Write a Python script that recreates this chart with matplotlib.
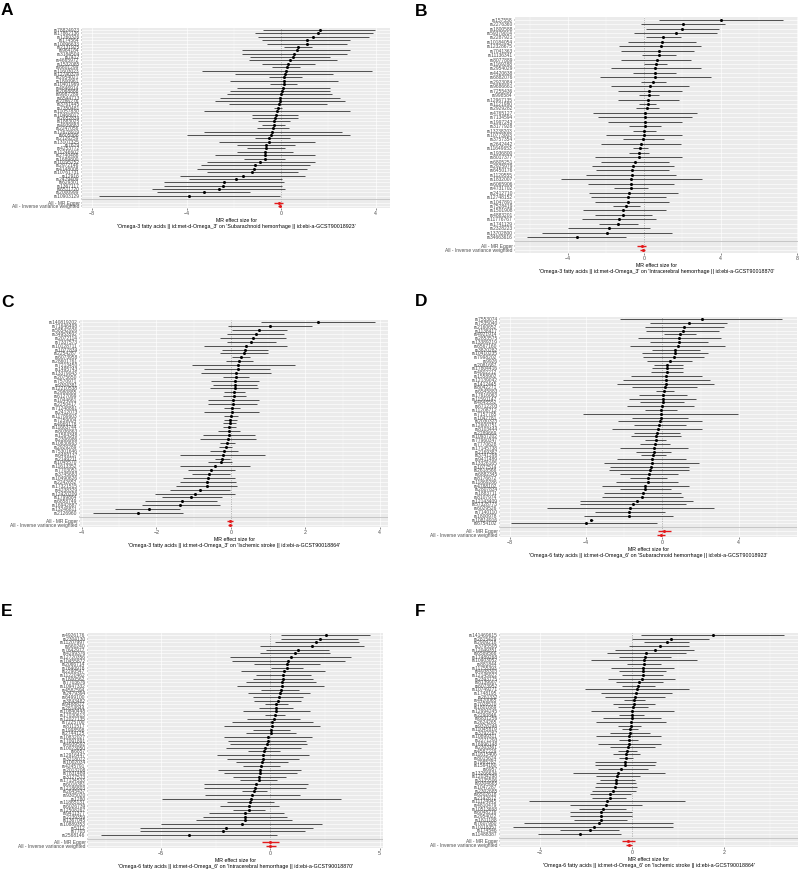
import numpy as np
import matplotlib
matplotlib.use("Agg")
import matplotlib.pyplot as plt
from matplotlib.ticker import MultipleLocator

plt.rcParams['font.family'] = ['Liberation Sans', 'DejaVu Sans']

# ---- panel A: Omega-3 -> Subarachnoid hemorrhage
snps_a = ("rs78824923 rs17862136 rs1260326 rs174564 rs10096633 rs2131925 rs964184 rs3184504 rs7412 rs4665972 "
          "rs1532085 rs6601299 rs11603023 rs12740374 rs2954021 rs1800961 rs10401969 rs4846914 rs2068888 rs9987289 "
          "rs6544713 rs2286276 rs3761445 rs7350481 rs11057830 rs10468017 rs2652834 rs1883025 rs4939883 rs2247056 "
          "rs12678919 rs605066 rs2126259 rs13107325 rs7679 rs4253772 rs11246602 rs2740488 rs1689800 rs10195252 "
          "rs2972146 rs4148008 rs10761731 rs12916 rs2479409 rs629301 rs1367117 rs6511720 rs2000999 rs10903129").split()
beta_a = [1.62, 1.55, 1.34, 1.08, 1.08, 0.70, 0.66, 0.55, 0.48, 0.38, 0.27, 0.24, 0.21, 0.17, 0.14, 0.13, 0.10,
          0.06, 0.03, -0.01, -0.04, -0.07, -0.11, -0.15, -0.18, -0.22, -0.25, -0.30, -0.32, -0.35, -0.39, -0.44,
          -0.52, -0.53, -0.63, -0.65, -0.68, -0.68, -0.70, -0.89, -1.10, -1.13, -1.24, -1.63, -1.93, -2.43, -2.46,
          -2.64, -3.28, -3.88]
lo_a = [-0.75, -1.1, -1.0, -0.8, -0.6, 0.1, -1.66, -1.66, -1.3, -1.38, -0.8, -0.4, -3.35, -1.94, -0.53, -2.15,
        -0.46, -1.87, -2.15, -2.3, -2.57, -2.8, -2.2, -0.3, -3.28, -1.24, -1.24, -0.96, -0.82, -1.03, -3.28, -3.98,
        -1.1, -2.64, -1.87, -1.45, -1.87, -2.8, -1.59, -3.14, -3.4, -3.56, -3.14, -4.26, -3.9, -4.96, -4.96, -5.46,
        -5.25, -7.7]
hi_a = [3.97, 3.9, 3.7, 2.9, 2.8, 1.3, 2.9, 2.77, 2.07, 2.35, 1.43, 0.8, 3.83, 2.2, 0.87, 2.42, 0.66, 2.07, 2.07,
        2.14, 2.5, 2.7, 1.93, 0.03, 2.9, 0.73, 0.73, 0.38, 0.17, 0.31, 2.56, 2.9, 0.38, 1.43, 0.59, 0.17, 0.52, 1.43,
        0.17, 1.43, 1.22, 1.08, 0.73, 1.0, 0.03, 0.1, 0.03, 0.17, -1.31, -0.07]
all_a = [(-0.11, -0.30, 0.07), (-0.07, -0.15, 0.0)]

# ---- panel B: Omega-3 -> Intracerebral hemorrhage
snps_b = ("rs157558 rs2276360 rs1800588 rs59379014 rs2287921 rs10184054 rs12328675 rs7041363 rs11136341 rs8077889 "
          "rs1169288 rs2954029 rs4420638 rs6882076 rs2923084 rs9686661 rs7255436 rs998584 rs12967135 rs1121980 "
          "rs2929282 rs4765127 rs7134594 rs1997243 rs3177928 rs13238203 rs10773003 rs3757354 rs2642442 rs11649653 "
          "rs1936800 rs8017377 rs6805251 rs2925979 rs6450176 rs1129555 rs1832007 rs6065906 rs4731702 rs2412710 "
          "rs12748152 rs1047891 rs7528419 rs1501908 rs4883201 rs11776767 rs1741129 rs2328223 rs13702800 rs34663616").split()
beta_b = [4.04, 2.03, 2.0, 1.65, 0.99, 0.95, 0.88, 0.75, 0.75, 0.64, 0.61, 0.57, 0.55, 0.55, 0.47, 0.29, 0.26,
          0.23, 0.21, 0.17, 0.12, 0.05, 0.03, 0.03, 0.02, 0.0, -0.03, -0.09, -0.16, -0.23, -0.26, -0.29, -0.47,
          -0.61, -0.64, -0.64, -0.68, -0.69, -0.71, -0.78, -0.83, -0.87, -0.94, -1.09, -1.13, -1.33, -1.37, -1.85,
          -1.96, -3.52]
lo_b = [0.78, -0.17, 0.09, -0.52, 0.09, -0.87, -1.3, -1.21, -0.12, -1.21, 0.0, -1.73, -0.6, -2.34, -0.17, -1.73,
        -1.39, -0.29, -1.39, -0.26, -0.43, -2.69, -2.43, -1.91, -0.78, -0.61, -2.0, -1.13, -2.25, -0.61, -0.78,
        -2.6, -2.25, -2.72, -2.55, -3.07, -4.37, -2.95, -1.6, -2.9, -2.77, -2.6, -1.65, -3.2, -2.6, -3.24, -2.38,
        -3.99, -5.37, -6.15]
hi_b = [7.28, 4.25, 3.9, 3.81, 1.91, 2.69, 2.95, 2.6, 1.65, 2.43, 1.21, 2.95, 1.65, 3.47, 1.13, 2.34, 2.0, 0.75,
        1.82, 0.61, 0.78, 2.77, 2.51, 2.0, 0.87, 0.61, 2.0, 1.04, 1.91, 0.17, 0.26, 2.0, 1.27, 1.56, 1.27, 1.68, 3.0,
        1.58, 0.17, 1.77, 1.13, 1.27, -0.21, 1.13, 0.4, 0.61, -0.35, 0.29, 1.44, -0.95]
all_b = [(-0.12, -0.40, 0.09), (-0.09, -0.23, 0.05)]

# ---- panel C: Omega-3 -> Ischemic stroke
snps_c = ("rs140819202 rs71646498 rs58542926 rs34953592 rs2072114 rs7337573 rs10128711 rs1077834 rs2254287 rs6073958 "
          "rs28601761 rs7213450 rs1495743 rs13379043 rs2075650 rs7570971 rs9304381 rs12210538 rs2980885 rs6127099 "
          "rs1044661 rs2250417 rs71248861 rs2412073 rs11789603 rs7259004 rs4969178 rs11663744 rs8036863 rs1564348 "
          "rs2306986 rs10830963 rs2929289 rs75301646 rs6499137 rs2149211 rs1045570 rs11613352 rs7703051 rs3745683 "
          "rs10490626 rs2242652 rs17321515 rs4238329 rs12420209 rs1799884 rs6858749 rs16942887 rs13246811 rs2126960").split()
beta_c = [2.34, 1.06, 0.76, 0.67, 0.6, 0.55, 0.40, 0.38, 0.36, 0.26, 0.22, 0.2, 0.18, 0.15, 0.13, 0.12, 0.11, 0.1,
          0.09, 0.08, 0.06, 0.05, 0.04, 0.03, 0.01, -0.02, -0.03, -0.04, -0.05, -0.06, -0.08, -0.11, -0.14, -0.18,
          -0.21, -0.24, -0.26, -0.43, -0.54, -0.58, -0.6, -0.63, -0.65, -0.83, -0.96, -1.07, -1.32, -1.37, -2.2, -2.5]
lo_c = [0.8, -0.07, 0.02, -0.09, -0.29, -0.09, -0.72, -0.25, -0.29, 0.04, -0.13, -1.03, -0.72, -0.79, -0.22, -0.52,
        -0.47, -0.56, -0.19, -0.22, -0.6, -0.6, -0.19, -0.72, -0.19, -0.19, -0.21, -0.22, -0.34, -0.74, -0.83, -0.29,
        -0.31, -0.56, -1.37, -0.43, -0.6, -1.37, -1.14, -1.05, -1.28, -1.37, -1.46, -1.63, -2.04, -1.86, -2.3, -2.39,
        -3.11, -3.7]
hi_c = [3.86, 2.19, 1.51, 1.43, 1.49, 1.22, 1.51, 1.0, 1.0, 0.51, 0.6, 1.71, 1.06, 1.09, 0.49, 0.76, 0.69, 0.73,
        0.38, 0.4, 0.75, 0.69, 0.24, 0.76, 0.2, 0.17, 0.15, 0.15, 0.24, 0.64, 0.67, 0.11, 0.04, 0.2, 0.91, -0.03, 0.04,
        0.51, 0.11, -0.03, 0.11, 0.15, 0.17, -0.03, 0.11, -0.25, -0.38, -0.29, -1.37, -1.28]
all_c = [(-0.03, -0.09, 0.06), (-0.03, -0.07, 0.04)]

# ---- panel D: Omega-6 -> Subarachnoid hemorrhage
snps_d = ("rs7553074 rs7535040 rs2160652 rs1138417 rs4921914 rs2853575 rs13389219 rs6567160 rs3820282 rs10410235 "
          "rs7998202 rs9926 rs2081687 rs17804416 rs4802212 rs1558902 rs12139042 rs1412445 rs8042271 rs6545883 "
          "rs17616063 rs11591147 rs4845552 rs6712203 rs11208712 rs7157785 rs1047781 rs2030323 rs12600751 rs8103444 "
          "rs2289669 rs10937202 rs77960347 rs7770628 rs17145738 rs2169387 rs3741298 rs9411489 rs13326165 rs1077514 "
          "rs2618566 rs6882345 rs8176672 rs11869286 rs4788102 rs2807834 rs1883711 rs8107974 rs12143409 rs57328773 "
          "rs6029526 rs7140110 rs1800978 rs10814916 rs6754102").split()
beta_d = [2.05, 1.37, 1.13, 1.06, 0.92, 0.89, 0.87, 0.8, 0.68, 0.66, 0.61, 0.4, 0.26, 0.23, 0.23, 0.21, 0.19, 0.17,
          0.14, 0.1, 0.05, 0.05, 0.02, -0.03, -0.07, -0.09, -0.09, -0.1, -0.16, -0.24, -0.28, -0.31, -0.33, -0.37,
          -0.42, -0.43, -0.47, -0.52, -0.56, -0.61, -0.64, -0.68, -0.73, -0.77, -0.89, -0.9, -1.03, -1.04, -1.34,
          -1.55, -1.69, -1.72, -1.76, -3.72, -4.0]
lo_d = [-2.24, -0.64, -0.9, -0.85, 0.1, -1.29, -0.64, -1.69, -0.56, -1.04, -0.99, -0.82, -0.43, -0.56, -0.61, -1.63,
        -2.07, -2.38, -1.57, -0.33, -1.2, -1.77, -1.17, -1.86, -0.9, -4.16, -1.57, -2.3, -1.51, -2.64, -1.51, -1.63,
        -0.9, -1.17, -2.24, -1.37, -1.13, -2.38, -3.04, -2.73, -2.77, -2.24, -1.69, -2.42, -3.17, -2.24, -3.04, -3.17,
        -4.3, -4.3, -6.03, -3.55, -4.12, -3.8, -7.95]
hi_d = [6.28, 3.41, 3.22, 2.97, 1.74, 3.06, 2.4, 3.27, 1.97, 2.37, 2.17, 1.57, 1.1, 1.1, 1.06, 2.05, 2.49, 2.71, 1.84,
        0.61, 1.27, 1.74, 1.15, 1.67, 0.75, 3.97, 1.36, 2.05, 1.22, 2.1, 0.92, 0.97, 0.17, 0.4, 1.32, 0.45, 0.17, 1.23,
        1.91, 1.41, 1.41, 0.8, 0.23, 0.83, 1.37, 0.45, 0.96, 1.06, 1.58, 1.22, 2.7, 0.14, 0.57, -3.64, -0.26]
all_d = [(0.10, -0.24, 0.45), (-0.07, -0.30, 0.14)]

# ---- panel E: Omega-6 -> Intracerebral hemorrhage
snps_e = ("rs4926176 rs2304130 rs11207997 rs660240 rs7642977 rs4299376 rs12720356 rs10455872 rs2066714 rs7640978 "
          "rs2290547 rs11220462 rs1800562 rs7703676 rs10947332 rs4587594 rs2479394 rs6499100 rs3843482 rs9488822 "
          "rs2814944 rs10840448 rs17030613 rs12027135 rs7225700 rs8111517 rs1998598 rs2744125 rs10832027 rs17091891 "
          "rs4939592 rs10023050 rs6857 rs12916447 rs3218072 rs1002034 rs4245791 rs2013208 rs7831489 rs3127573 "
          "rs17134533 rs6016381 rs12186803 rs2645437 rs9305020 rs1280 rs11865131 rs6026739 rs12508267 rs9411377 "
          "rs2239359 rs1367045 rs10889353 rs5112 rs7703 rs2568146").split()
beta_e = [2.53, 2.26, 2.1, 1.9, 1.28, 1.14, 0.96, 0.82, 0.76, 0.76, 0.61, 0.58, 0.56, 0.53, 0.52, 0.47, 0.43, 0.4,
          0.35, 0.27, 0.27, 0.24, 0.21, 0.15, 0.09, 0.06, 0.05, 0.03, -0.09, -0.11, -0.14, -0.26, -0.29, -0.32, -0.35,
          -0.38, -0.41, -0.46, -0.49, -0.5, -0.52, -0.67, -0.72, -0.73, -0.84, -0.88, -0.91, -0.98, -0.99, -1.14,
          -1.16, -1.17, -1.3, -2.01, -2.16, -3.72]
lo_e = [0.5, 0.5, 0.2, -0.49, -0.18, -0.49, -1.83, -1.75, -0.76, 0.05, -1.33, -0.67, -0.79, -1.1, -1.52, -0.41,
        -1.02, -0.79, -0.76, -0.26, -0.52, -1.25, -0.23, -1.07, -1.75, -2.13, -0.79, -1.13, -2.13, -1.94, -1.83,
        -2.01, -1.02, -2.44, -1.98, -1.55, -1.25, -2.39, -2.13, -1.71, -1.37, -3.05, -3.05, -1.3, -3.0, -4.94, -1.98,
        -2.32, -1.71, -2.82, -3.08, -3.38, -5.02, -5.98, -5.98, -7.73]
hi_e = [4.57, 4.0, 4.05, 4.27, 2.68, 2.71, 3.7, 3.4, 2.29, 1.49, 2.5, 1.88, 1.95, 2.1, 2.44, 1.3, 1.83, 1.49, 1.42,
        0.79, 1.04, 1.8, 0.69, 1.34, 1.95, 2.26, 0.91, 1.19, 1.92, 1.65, 1.68, 1.42, 0.43, 1.77, 1.31, 0.82, 0.43,
        1.42, 1.23, 0.73, 0.3, 1.72, 1.65, -0.15, 1.37, 3.25, 0.15, 0.4, -0.23, 0.61, 0.76, 1.0, 2.38, 1.95, 1.57, 0.3]
all_e = [(-0.03, -0.37, 0.40), (0.0, -0.18, 0.24)]

# ---- panel F: Omega-6 -> Ischemic stroke
snps_f = ("rs141469615 rs2815429 rs2909218 rs3795505 rs12049351 rs6589566 rs17489268 rs10903052 rs881844 rs11755393 "
          "rs4938303 rs12145922 rs2393775 rs8139907 rs6073952 rs10749271 rs1748195 rs261332 rs4420065 rs7028570 "
          "rs1801689 rs12994245 rs2290846 rs6831256 rs2624265 rs9326246 rs11045819 rs3792267 rs10899311 rs2271293 "
          "rs16996148 rs2303361 rs4587229 rs11615406 rs8015624 rs7985287 rs1564180 rs6957 rs13266634 rs12034298 "
          "rs3135506 rs9304665 rs1047287 rs2302685 rs6502618 rs2142672 rs11124945 rs4810479 rs10513668 rs6048216 "
          "rs2954022 rs1811188 rs7607980 rs10118357 rs174546 rs11488387").split()
beta_f = [1.75, 0.85, 0.76, 0.6, 0.49, 0.31, 0.29, 0.27, 0.26, 0.25, 0.24, 0.24, 0.22, 0.15, 0.14, 0.11, 0.09, 0.06,
          0.05, 0.04, 0.02, 0.01, 0.01, 0.0, -0.01, -0.03, -0.04, -0.05, -0.06, -0.06, -0.07, -0.09, -0.11, -0.12,
          -0.13, -0.14, -0.14, -0.23, -0.3, -0.32, -0.34, -0.35, -0.37, -0.4, -0.47, -0.48, -0.55, -0.57, -0.63,
          -0.66, -0.67, -0.68, -0.71, -0.83, -0.9, -1.13]
lo_f = [0.2, 0.0, 0.27, -0.06, -0.37, -0.54, -0.27, -0.88, -0.1, -0.45, -0.27, -0.21, -0.52, -0.35, -0.22, -1.02,
        -0.66, -0.59, -0.18, -0.42, -0.3, -0.88, -0.27, -0.63, -0.77, -0.3, -0.21, -0.48, -0.77, -0.27, -0.73, -0.48,
        -0.3, -0.41, -0.27, -0.81, -0.81, -0.73, -1.27, -0.78, -0.7, -0.77, -0.81, -0.86, -0.91, -0.86, -2.24, -1.35,
        -1.14, -1.35, -1.35, -1.26, -2.34, -2.57, -1.56, -2.03]
hi_f = [3.29, 1.68, 1.23, 1.24, 1.35, 1.17, 0.85, 1.41, 0.62, 0.92, 0.74, 0.67, 0.94, 0.67, 0.51, 1.24, 0.87, 0.72,
        0.29, 0.49, 0.35, 0.92, 0.27, 0.63, 0.74, 0.2, 0.14, 0.4, 0.63, 0.13, 0.62, 0.49, 0.11, 0.18, 0.02, 0.53, 0.51,
        0.35, 0.71, 0.17, 0.06, 0.09, 0.11, 0.08, -0.01, -0.12, 1.14, 0.22, -0.12, 0.01, 0.01, -0.1, 0.88, 0.9, -0.27,
        -0.23]
all_f = [(-0.09, -0.21, 0.07), (-0.06, -0.12, 0.0)]

method_labels = ["All - MR Egger", "All - Inverse variance weighted"]
exposure_3 = "Omega-3 fatty acids || id:met-d-Omega_3"
exposure_6 = "Omega-6 fatty acids || id:met-d-Omega_6"
out_sah = "Subarachnoid hemorrhage || id:ebi-a-GCST90018923"
out_ich = "Intracerebral hemorrhage || id:ebi-a-GCST90018870"
out_is = "Ischemic stroke || id:ebi-a-GCST90018864"

W, H = 800, 871

# letter, data, exposure, outcome, axes box in px (left, top, right, bottom), xlim, ticks, letter pos
panels = [
    ("A", snps_a, beta_a, lo_a, hi_a, all_a, exposure_3, out_sah, (82, 28, 390, 208), (-8.42, 4.6), [-8, -4, 0, 4], (1, 15)),
    ("B", snps_b, beta_b, lo_b, hi_b, all_b, exposure_3, out_ich, (515, 17, 798, 253), (-6.77, 8.05), [-4, 0, 4, 8], (415, 16)),
    ("C", snps_c, beta_c, lo_c, hi_c, all_c, exposure_3, out_is, (80, 320, 388, 527), (-4.05, 4.22), [-4, -2, 0, 2, 4], (1, 307)),
    ("D", snps_d, beta_d, lo_d, hi_d, all_d, exposure_6, out_sah, (500, 317, 797, 537), (-8.5, 7.05), [-8, -4, 0, 4], (415, 306)),
    ("E", snps_e, beta_e, lo_e, hi_e, all_e, exposure_6, out_ich, (88, 633, 383, 848), (-8.34, 5.15), [-5, 0, 5], (1, 616)),
    ("F", snps_f, beta_f, lo_f, hi_f, all_f, exposure_6, out_is, (500, 633, 798, 847), (-2.86, 3.6), [-2, 0, 2], (415, 616)),
]

fig = plt.figure(figsize=(W / 100, H / 100), dpi=100)
fig.patch.set_facecolor("white")

for letter, snps, beta, lo, hi, summ, expo, outc, box, xlim, ticks, lpos in panels:
    assert len(snps) == len(beta) == len(lo) == len(hi), letter
    l, t, r, b = box
    ax = fig.add_axes([l / W, 1 - b / H, (r - l) / W, (b - t) / H])
    ax.set_facecolor("#EBEBEB")
    ax.set_axisbelow(True)
    for s in ax.spines.values():
        s.set_visible(False)

    n = len(snps)
    y_snp = np.arange(n)
    y_sum = np.array([n + 1, n + 2])
    labels = snps + [""] + method_labels

    ax.hlines(y_snp, lo, hi, color="#333333", lw=0.6, zorder=3)
    ax.plot(beta, y_snp, "o", color="black", ms=2.2, mew=0, zorder=4)
    ax.hlines(y_sum, [s[1] for s in summ], [s[2] for s in summ], color="#E41A1C", lw=1.0, zorder=3)
    ax.plot([s[0] for s in summ], y_sum, "o", color="#E41A1C", ms=2.2, mew=0, zorder=4)
    ax.axvline(0, color="#777777", lw=0.5, ls=(0, (1, 1.5)), zorder=2)
    ax.axhline(n, color="#BEBEBE", lw=0.6, zorder=2)

    ax.set_xlim(*xlim)
    ax.set_ylim(n + 2.6, -0.6)
    ax.set_xticks(ticks)
    step = ticks[1] - ticks[0]
    ax.xaxis.set_minor_locator(MultipleLocator(step / 2))
    ax.set_yticks(np.arange(n + 3))
    ax.set_yticklabels(labels, fontsize=3.5, color="#4D4D4D")
    ax.tick_params(axis="x", labelsize=3.8, labelcolor="#4D4D4D", length=1.5, width=0.4,
                   color="#333333", pad=0.8)
    ax.tick_params(axis="x", which="minor", length=0)
    ax.tick_params(axis="y", length=1.0, width=0.3, color="#333333", pad=0.8)
    ax.grid(True, which="major", color="white", lw=0.45)
    ax.grid(True, which="minor", axis="x", color="white", lw=0.25)

    ax.set_xlabel("MR effect size for\n'%s' on '%s'" % (expo, outc), fontsize=3.8, labelpad=1.2,
                  linespacing=1.2)

    fig.text(lpos[0] / W, 1 - lpos[1] / H, letter, fontsize=12.5, fontweight="bold",
             ha="left", va="baseline")

fig.savefig("out.png", dpi=100, facecolor="white")
